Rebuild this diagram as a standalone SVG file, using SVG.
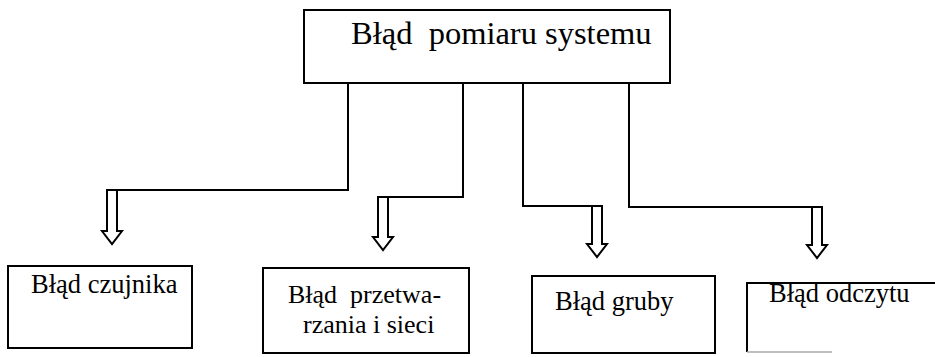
<svg xmlns="http://www.w3.org/2000/svg" width="935" height="357" viewBox="0 0 935 357">
  <style>
    .box { fill: #fff; stroke: #000; stroke-width: 2; }
    .edge { fill: none; stroke: #000; stroke-width: 2; }
    .arrow { fill: #fff; stroke: #000; stroke-width: 2; stroke-linejoin: miter; }
    .lbl { font-family: "Liberation Serif", "Times New Roman", serif; fill: #000; }
    .big { font-size: 32.5px; }
    .small { font-size: 26.5px; }
    .wrap { font-size: 26px; }
  </style>
  <rect width="935" height="357" fill="#fff"/>

  <!-- root node -->
  <g id="root">
    <rect class="box" x="304" y="10" width="366" height="73"/>
    <text class="lbl big" x="351" y="44" xml:space="preserve">Błąd  pomiaru systemu</text>
  </g>

  <!-- connectors with hollow block arrows -->
  <g id="connectors">
    <polyline class="edge" points="348,83 348,190 107,190"/>
    <polygon class="arrow" points="107,190 117,190 117,231 122,231 112,244 102,231 107,231"/>

    <polyline class="edge" points="463,83 463,197 388,197"/>
    <polygon class="arrow" points="378,197 388,197 388,237 393,237 383,250 373,237 378,237"/>

    <polyline class="edge" points="523,83 523,206 602,206"/>
    <polygon class="arrow" points="592,206 602,206 602,244 607,244 597,257 587,244 592,244"/>

    <polyline class="edge" points="629,83 629,207 822,207"/>
    <polygon class="arrow" points="812,207 822,207 822,245 827,245 817,258 807,245 812,245"/>
  </g>

  <!-- child nodes -->
  <g id="czujnik">
    <rect class="box" x="8" y="266" width="184" height="82"/>
    <text class="lbl small" x="31" y="293">Błąd czujnika</text>
  </g>

  <g id="przetwarzanie">
    <rect class="box" x="263" y="268" width="206" height="85"/>
    <text class="lbl wrap" x="288" y="303" xml:space="preserve">Błąd  przetwa-</text>
    <text class="lbl wrap" x="303" y="333">rzania i sieci</text>
  </g>

  <g id="gruby">
    <rect class="box" x="532" y="276" width="183" height="77"/>
    <text class="lbl small" x="555" y="310">Błąd gruby</text>
  </g>

  <g id="odczyt">
    <polyline class="edge" points="935,283 747,283 747,352"/>
    <line x1="747" y1="352" x2="832" y2="352" stroke="#aaa" stroke-width="1.5"/>
    <text class="lbl small" x="769" y="302">Błąd odczytu</text>
  </g>
</svg>
